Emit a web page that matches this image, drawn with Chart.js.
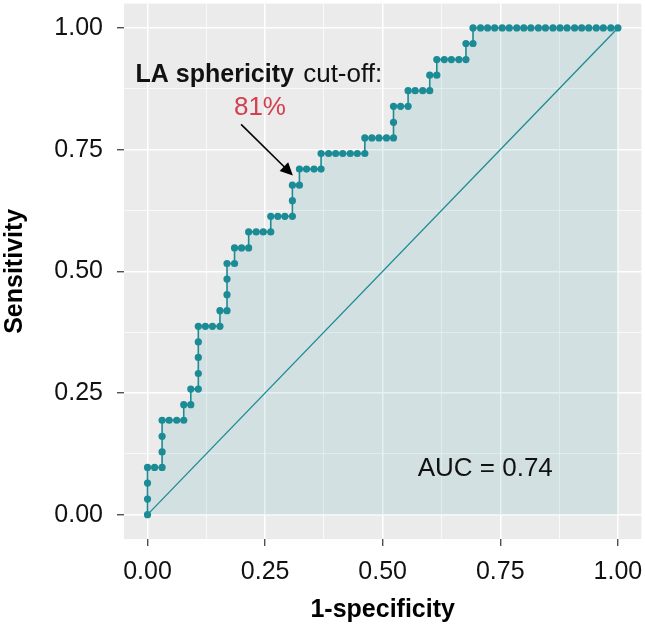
<!DOCTYPE html>
<html>
<head>
<meta charset="utf-8">
<script src="https://cdn.jsdelivr.net/npm/chart.js@4"></script>
<style>
  html, body { margin: 0; padding: 0; background: #ffffff; }
  #wrap { width: 645px; height: 629px; position: relative; }
</style>
</head>
<body>
<div id="wrap"><canvas id="rocChart"></canvas></div>
<script>
// ROC curve: 1-specificity vs sensitivity
const oneMinusSpec = [
    0, 0, 0, 0, 0.015, 0.031, 0.031, 0.031, 0.031, 0.046,
    0.062, 0.077, 0.077, 0.092, 0.092, 0.108, 0.108, 0.108, 0.108, 0.108,
    0.123, 0.138, 0.154, 0.154, 0.169, 0.169, 0.169, 0.169, 0.185, 0.185,
    0.2, 0.215, 0.215, 0.231, 0.246, 0.262, 0.262, 0.277, 0.292, 0.308,
    0.308, 0.308, 0.323, 0.323, 0.338, 0.354, 0.369, 0.369, 0.385, 0.4,
    0.415, 0.431, 0.446, 0.462, 0.462, 0.477, 0.492, 0.508, 0.523, 0.523,
    0.523, 0.538, 0.554, 0.554, 0.569, 0.585, 0.6, 0.6, 0.615, 0.615,
    0.631, 0.646, 0.662, 0.677, 0.677, 0.692, 0.692, 0.708, 0.723, 0.738,
    0.754, 0.769, 0.785, 0.8, 0.815, 0.831, 0.846, 0.862, 0.877, 0.892,
    0.908, 0.923, 0.938, 0.954, 0.969, 0.985, 1
];
const sensitivity = [
    0, 0.032, 0.065, 0.097, 0.097, 0.097, 0.129, 0.161, 0.194, 0.194,
    0.194, 0.194, 0.226, 0.226, 0.258, 0.258, 0.29, 0.323, 0.355, 0.387,
    0.387, 0.387, 0.387, 0.419, 0.419, 0.452, 0.484, 0.516, 0.516, 0.548,
    0.548, 0.548, 0.581, 0.581, 0.581, 0.581, 0.613, 0.613, 0.613, 0.613,
    0.645, 0.677, 0.677, 0.71, 0.71, 0.71, 0.71, 0.742, 0.742, 0.742,
    0.742, 0.742, 0.742, 0.742, 0.774, 0.774, 0.774, 0.774, 0.774, 0.806,
    0.839, 0.839, 0.839, 0.871, 0.871, 0.871, 0.871, 0.903, 0.903, 0.935,
    0.935, 0.935, 0.935, 0.935, 0.968, 0.968, 1, 1, 1, 1,
    1, 1, 1, 1, 1, 1, 1, 1, 1, 1,
    1, 1, 1, 1, 1, 1, 1
];
const refX = [0, 1];
const refY = [0, 1];

const majorTicks = [0, 0.25, 0.5, 0.75, 1];
const minorTicks = [0.125, 0.375, 0.625, 0.875];
const tickLabels = ['0.00', '0.25', '0.50', '0.75', '1.00'];

const aucText = 'AUC = 0.74';
const cutoffValue = '81%';

const teal = '#1b8b95';
const FONT = '"Liberation Sans", Arial, Helvetica, sans-serif';

function isMajor(v) {
    return majorTicks.some(m => Math.abs(m - v) < 1e-9);
}

function setTicks(scale) {
    scale.ticks = majorTicks.concat(minorTicks).sort((a, b) => a - b).map(v => ({ value: v }));
}

function labelFor(v) {
    const i = majorTicks.findIndex(m => Math.abs(m - v) < 1e-9);
    return i >= 0 ? tickLabels[i] : '';
}

const gridOpts = {
    color: '#ffffff',
    lineWidth: ctx => (ctx.tick && isMajor(ctx.tick.value)) ? 1.5 : 0.7,
    drawTicks: true,
    tickLength: 7,
    tickWidth: 1.2,
    tickColor: ctx => (ctx.tick && isMajor(ctx.tick.value)) ? '#333333' : 'rgba(0,0,0,0)'
};

const panelBg = {
    id: 'panelBg',
    beforeDraw(chart) {
        const a = chart.chartArea;
        const c = chart.ctx;
        c.save();
        c.fillStyle = '#ebebeb';
        c.fillRect(a.left, a.top, a.right - a.left, a.bottom - a.top);
        c.restore();
    }
};

const annotations = {
    id: 'annotations',
    afterDatasetsDraw(chart) {
        const c = chart.ctx;
        const xs = chart.scales.x;
        const ys = chart.scales.y;
        c.save();

        // label of the cut-off: bold part + regular part
        c.textBaseline = 'alphabetic';
        c.fillStyle = '#111111';
        const boldPart = 'LA sphericity';
        const regPart = ' cut-off:';
        c.font = 'bold 25px ' + FONT;
        const wb = c.measureText(boldPart).width;
        c.font = '26px ' + FONT;
        const wr = c.measureText(regPart).width;
        const cx = xs.getPixelForValue(0.241);
        const by = ys.getPixelForValue(0.889);
        const x0 = cx - (wb + wr) / 2 - 3;
        c.font = 'bold 25px ' + FONT;
        c.textAlign = 'left';
        c.fillText(boldPart, x0, by);
        c.font = '26px ' + FONT;
        c.fillText(regPart, x0 + wb + 2, by);

        c.fillStyle = '#d43f4f';
        c.textAlign = 'center';
        c.fillText(cutoffValue, xs.getPixelForValue(0.239), ys.getPixelForValue(0.822));

        // arrow
        const ax1 = xs.getPixelForValue(0.199), ay1 = ys.getPixelForValue(0.802);
        const ax2 = xs.getPixelForValue(0.309), ay2 = ys.getPixelForValue(0.697);
        const ang = Math.atan2(ay2 - ay1, ax2 - ax1);
        const hl = 14;
        c.strokeStyle = '#000000';
        c.lineWidth = 1.6;
        c.beginPath();
        c.moveTo(ax1, ay1);
        c.lineTo(ax2 - Math.cos(ang) * hl * 0.8, ay2 - Math.sin(ang) * hl * 0.8);
        c.stroke();
        c.fillStyle = '#000000';
        c.beginPath();
        c.moveTo(ax2, ay2);
        c.lineTo(ax2 - hl * Math.cos(ang - 0.45), ay2 - hl * Math.sin(ang - 0.45));
        c.lineTo(ax2 - hl * Math.cos(ang + 0.45), ay2 - hl * Math.sin(ang + 0.45));
        c.closePath();
        c.fill();

        // AUC
        c.fillStyle = '#111111';
        c.font = '26px ' + FONT;
        c.textAlign = 'center';
        c.fillText(aucText, xs.getPixelForValue(0.718), ys.getPixelForValue(0.08));
        c.restore();
    }
};

const ctx = document.getElementById('rocChart').getContext('2d');
const chart = new Chart(ctx, {
    type: 'scatter',
    data: {
        datasets: [{
            label: 'ROC',
            data: oneMinusSpec.map((x, i) => ({ x: x, y: sensitivity[i] })),
            showLine: true,
            borderColor: teal,
            borderWidth: 1.6,
            pointRadius: 3.6,
            pointBackgroundColor: teal,
            pointBorderWidth: 0,
            pointHoverRadius: 3.6,
            fill: 'origin',
            backgroundColor: 'rgba(27,139,149,0.115)',
            tension: 0,
            order: 1
        }, {
            label: 'Reference',
            data: refX.map((x, i) => ({ x: x, y: refY[i] })),
            showLine: true,
            borderColor: teal,
            borderWidth: 1.3,
            pointRadius: 0,
            fill: false,
            order: 2
        }]
    },
    options: {
        responsive: true,
        maintainAspectRatio: false,
        animation: false,
        events: [],
        layout: {
            padding: { top: 1, right: 3, bottom: 0, left: 0 }
        },
        plugins: {
            legend: { display: false },
            tooltip: { enabled: false }
        },
        scales: {
            x: {
                type: 'linear',
                min: -0.05,
                max: 1.05,
                afterBuildTicks: setTicks,
                afterFit: s => {
                    s.height = 90;
                    s.paddingLeft = 0;
                    s.paddingRight = 0;
                },
                border: { display: false },
                grid: gridOpts,
                ticks: {
                    autoSkip: false,
                    maxRotation: 0,
                    padding: 11,
                    color: '#111111',
                    font: { family: FONT, size: 25 },
                    callback: v => labelFor(v)
                },
                title: {
                    display: true,
                    text: '1-specificity',
                    color: '#000000',
                    font: { family: FONT, size: 25, weight: 'bold' },
                    padding: { top: 0, bottom: 4 }
                }
            },
            y: {
                type: 'linear',
                min: -0.05,
                max: 1.05,
                afterBuildTicks: setTicks,
                afterFit: s => {
                    s.width = 124;
                    s.paddingTop = 0;
                    s.paddingBottom = 0;
                },
                border: { display: false },
                grid: gridOpts,
                ticks: {
                    autoSkip: false,
                    padding: 14,
                    color: '#111111',
                    font: { family: FONT, size: 25 },
                    callback: v => labelFor(v)
                },
                title: {
                    display: true,
                    text: 'Sensitivity',
                    color: '#000000',
                    font: { family: FONT, size: 25, weight: 'bold' },
                    padding: { top: 0, bottom: 0 }
                }
            }
        }
    },
    plugins: [panelBg, annotations]
});
</script>
</body>
</html>
